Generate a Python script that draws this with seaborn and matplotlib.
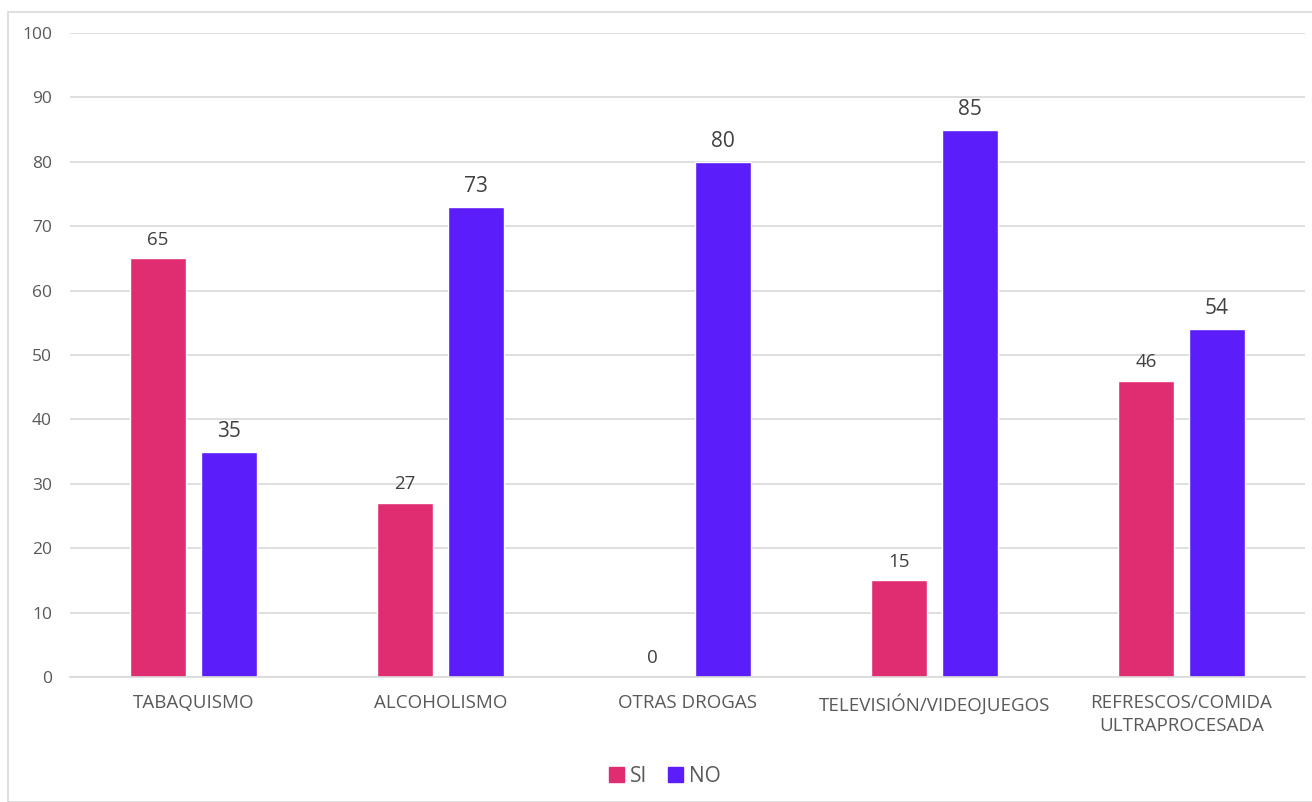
import matplotlib
matplotlib.use("Agg")
import matplotlib.pyplot as plt
import seaborn as sns
import pandas as pd
from matplotlib.patches import Rectangle, Patch

categorias = ["TABAQUISMO", "ALCOHOLISMO", "OTRAS DROGAS",
              "TELEVISIÓN/VIDEOJUEGOS", "REFRESCOS/COMIDA\nULTRAPROCESADA"]
si = [65, 27, 0, 15, 46]
no = [35, 73, 80, 85, 54]
series = ["SI", "NO"]
colores = {"SI": "#E02D72", "NO": "#5B1DF9"}

df = pd.DataFrame({
    "categoria": categorias * 2,
    "valor": si + no,
    "serie": ["SI"] * len(si) + ["NO"] * len(no),
})

sns.set_style("white")
plt.rcParams["font.family"] = ["Open Sans", "DejaVu Sans"]

fig = plt.figure(figsize=(13.12, 8.02), dpi=100)
ax = fig.add_axes([0.0534, 0.1559, 0.9413, 0.803])

sns.barplot(data=df, x="categoria", y="valor", hue="serie", hue_order=series,
            palette=colores, width=0.575, gap=0.21, saturation=1,
            legend=False, ax=ax)

ax.set_ylim(0, 100)
ax.set_xlim(-0.5, len(categorias) - 0.5)
ax.set_yticks(range(0, 101, 10))
ax.yaxis.grid(True, color="#D9D9D9", linewidth=1.2)
ax.set_axisbelow(True)
for s in ["top", "right", "left"]:
    ax.spines[s].set_visible(False)
ax.spines["bottom"].set_color("#D9D9D9")
ax.spines["bottom"].set_linewidth(1.2)
ax.tick_params(axis="both", length=0, labelcolor="#595959")
ax.tick_params(axis="x", pad=12, labelsize=13.5)
ax.tick_params(axis="y", pad=13, labelsize=12.5)
for t in ax.get_xticklabels():
    t.set_linespacing(1.35)
ax.set_xlabel("")
ax.set_ylabel("")

# etiquetas de datos
for cont, tam in zip(ax.containers, [13.5, 15]):
    ax.bar_label(cont, padding=7, fontsize=tam, color="#404040")

# leyenda
handles = [Patch(color=colores[s], label=s) for s in series]
fig.legend(handles=handles, loc="center", bbox_to_anchor=(0.507, 0.032),
           ncol=2, frameon=False, fontsize=15, handlelength=0.7,
           handleheight=0.7, handletextpad=0.3, columnspacing=1.0,
           labelcolor="#595959")

# borde exterior
fig.patches.append(Rectangle((8 / 1312, 0), 1.0, 1 - 12 / 802,
                             transform=fig.transFigure, fill=False,
                             edgecolor="#D9D9D9", linewidth=1.2))

fig.savefig("out.png", dpi=100)
